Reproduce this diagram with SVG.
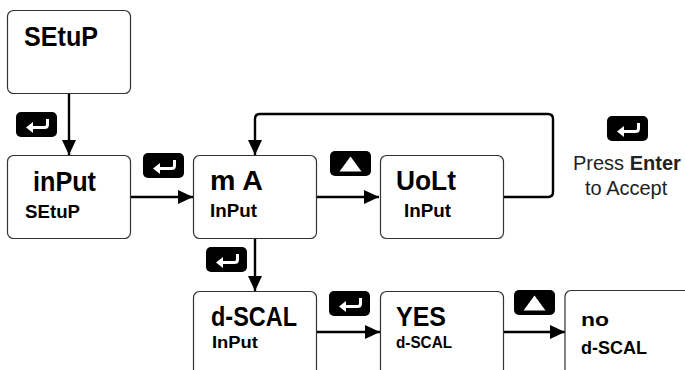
<svg xmlns="http://www.w3.org/2000/svg" xmlns:xlink="http://www.w3.org/1999/xlink" width="685" height="370" viewBox="0 0 685 370">
<style>
.box{fill:#fff;stroke:#333;stroke-width:1.2}
.c{fill:none;stroke:#000;stroke-width:2.4}
.t{font-family:"Liberation Sans",Arial,sans-serif;font-weight:700;fill:#000}
.b{font-size:27px}
.s{font-size:18px}
.p{font-family:"Liberation Sans",Arial,sans-serif;font-size:20px;fill:#222}
</style>
<defs>
<marker id="a" markerUnits="userSpaceOnUse" markerWidth="15" markerHeight="14" refX="15" refY="7" orient="auto"><path d="M0 0L15 7L0 14Z" fill="#000"/></marker>
<g id="enter"><rect width="41" height="25" rx="5" fill="#000"/><path d="M31.500 7V12.500Q31.500 15.500 28.500 15.500H14" fill="none" stroke="#fff" stroke-width="3"/><path d="M10 15.500L17 10V21Z" fill="#fff"/></g>
<g id="up"><rect width="41" height="25" rx="5" fill="#000"/><path d="M9.500 20.500L20.500 5.500L31.500 20.500Z" fill="#fff"/></g>
</defs>
<rect width="685" height="370" fill="#fff"/>
<g id="connectors">
<path class="c" d="M69 93V155" marker-end="url(#a)"/>
<path class="c" d="M130 197H193" marker-end="url(#a)"/>
<path class="c" d="M316 197H379" marker-end="url(#a)"/>
<path class="c" d="M503 197H548Q553 197 553 192V119Q553 114 548 114H260Q255 114 255 119V155" marker-end="url(#a)"/>
<path class="c" d="M255 238V291" marker-end="url(#a)"/>
<path class="c" d="M316 332H380" marker-end="url(#a)"/>
<path class="c" d="M503 332H565" marker-end="url(#a)"/>
</g>
<g id="node-setup"><rect class="box" x="7.500" y="10.500" width="123" height="83" rx="6"/><text class="t b" x="24" y="46" textLength="74" lengthAdjust="spacingAndGlyphs">SEtuP</text></g>
<g id="node-input"><rect class="box" x="7.500" y="155.500" width="123" height="83" rx="6"/><text class="t b" x="33" y="191" textLength="63" lengthAdjust="spacingAndGlyphs">inPut</text><text class="t s" x="25" y="218" textLength="55" lengthAdjust="spacingAndGlyphs">SEtuP</text></g>
<g id="node-ma"><rect class="box" x="193.500" y="155.500" width="123" height="83" rx="6"/><text class="t b" x="210" y="190" textLength="53" lengthAdjust="spacingAndGlyphs">m A</text><text class="t s" x="210" y="217" textLength="47" lengthAdjust="spacingAndGlyphs">InPut</text></g>
<g id="node-volt"><rect class="box" x="380.500" y="155.500" width="123" height="83" rx="6"/><text class="t b" x="396" y="190" textLength="60" lengthAdjust="spacingAndGlyphs">UoLt</text><text class="t s" x="404" y="217" textLength="47" lengthAdjust="spacingAndGlyphs">InPut</text></g>
<g id="node-dscal"><rect class="box" x="193.500" y="291.500" width="123" height="90" rx="6"/><text class="t b" x="211" y="326" textLength="86" lengthAdjust="spacingAndGlyphs">d-SCAL</text><text class="t" font-size="17" x="212" y="348" textLength="46" lengthAdjust="spacingAndGlyphs">InPut</text></g>
<g id="node-yes"><rect class="box" x="380.500" y="291.500" width="123" height="90" rx="6"/><text class="t b" x="396" y="326" textLength="50" lengthAdjust="spacingAndGlyphs">YES</text><text class="t" font-size="17" x="396" y="348" textLength="56" lengthAdjust="spacingAndGlyphs">d-SCAL</text></g>
<g id="node-no"><rect class="box" x="565" y="290.500" width="130" height="90" rx="6"/><text class="t s" x="581" y="326" textLength="28" lengthAdjust="spacingAndGlyphs">no</text><text class="t s" x="581" y="354" textLength="66" lengthAdjust="spacingAndGlyphs">d-SCAL</text></g>
<g id="buttons">
<use xlink:href="#enter" href="#enter" x="16" y="112"/>
<use xlink:href="#enter" href="#enter" x="143" y="153"/>
<use xlink:href="#up" href="#up" x="330" y="151"/>
<use xlink:href="#enter" href="#enter" x="206" y="247"/>
<use xlink:href="#enter" href="#enter" x="329" y="291"/>
<use xlink:href="#up" href="#up" x="514" y="290"/>
<use xlink:href="#enter" href="#enter" x="607" y="116"/>
</g>
<g id="legend"><text class="p" x="573" y="170">Press <tspan font-weight="700">Enter</tspan></text><text class="p" x="585" y="195">to Accept</text></g>
</svg>
